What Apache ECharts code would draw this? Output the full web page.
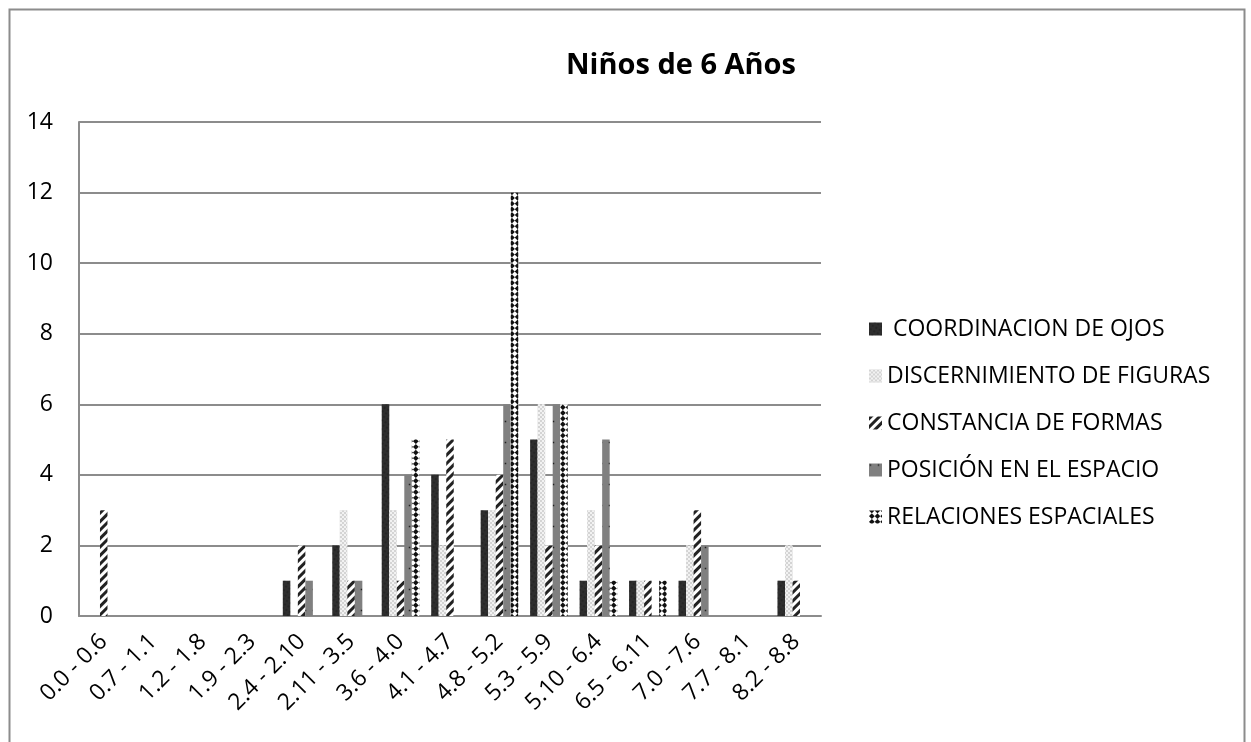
<!DOCTYPE html>
<html>
<head>
<meta charset="utf-8">
<script src="https://cdn.jsdelivr.net/npm/echarts@6/dist/echarts.min.js"></script>
<style>
  html, body { margin: 0; padding: 0; background: #fff; }
  #chart { width: 1251px; height: 742px; }
</style>
</head>
<body>
<div id="chart"></div>
<script>
var categories = ['0.0 - 0.6', '0.7 - 1.1', '1.2 - 1.8', '1.9 - 2.3', '2.4 - 2.10', '2.11 - 3.5', '3.6 - 4.0',
  '4.1 - 4.7', '4.8 - 5.2', '5.3 - 5.9', '5.10 - 6.4', '6.5 - 6.11', '7.0 - 7.6', '7.7 - 8.1', '8.2 - 8.8'];

var coordinacion = [0, 0, 0, 0, 1, 2, 6, 4, 3, 5, 1, 1, 1, 0, 1];
var discernimiento = [0, 0, 0, 0, 0, 3, 3, 2, 3, 6, 3, 1, 2, 0, 2];
var constancia = [3, 0, 0, 0, 2, 1, 1, 5, 4, 2, 2, 1, 3, 0, 1];
var posicion = [0, 0, 0, 0, 1, 1, 4, 0, 6, 6, 5, 0, 2, 0, 0];
var relaciones = [0, 0, 0, 0, 0, 0, 5, 0, 12, 6, 1, 1, 0, 0, 0];

var seriesNames = [' COORDINACION DE OJOS', 'DISCERNIMIENTO DE FIGURAS', 'CONSTANCIA DE FORMAS',
  'POSICIÓN EN EL ESPACIO', 'RELACIONES ESPACIALES'];
var yTicks = [0, 2, 4, 6, 8, 10, 12, 14];

var chartDom = document.getElementById('chart');
var myChart = echarts.init(chartDom);
var option;

// fill + pattern for each series (greyscale like the original)
var styles = [
  { color: '#2e2e2e', decal: { symbol: 'rect', symbolSize: 0.6, color: '#111', dashArrayX: [2, 2], dashArrayY: [2, 2] } },
  { color: '#d4d4d4', decal: { symbol: 'rect', symbolSize: 1, color: '#f2f2f2', dashArrayX: [[2, 2], [0, 2, 2, 0]], dashArrayY: [2, 0] } },
  { color: '#ffffff', decal: { symbol: 'rect', symbolSize: 1, color: '#222', dashArrayX: [1, 0], dashArrayY: [3, 3], rotation: -Math.PI / 4 } },
  { color: '#808080', decal: { symbol: 'rect', symbolSize: 0.5, color: '#222', dashArrayX: [3, 5], dashArrayY: [3, 18] } },
  { color: '#ffffff', decal: { symbol: 'rect', symbolSize: 1, color: '#111', dashArrayX: [[4, 4], [0, 4, 4, 0]], dashArrayY: [4, 0] } }
];
var values = [coordinacion, discernimiento, constancia, posicion, relaciones];

option = {
  backgroundColor: '#fff',
  aria: { enabled: true, decal: { show: true } },
  animation: false,
  textStyle: { fontFamily: 'Open Sans' },
  title: {
    text: 'Niños de 6 Años',
    left: 676,
    textAlign: 'center',
    top: 46,
    textStyle: { fontSize: 29, fontWeight: 'bold', color: '#000', fontFamily: 'Open Sans' }
  },
  graphic: [
    { type: 'rect', shape: { x: 9.5, y: 9.5, width: 1235, height: 760 }, style: { fill: 'none', stroke: '#8c8c8c', lineWidth: 2 }, silent: true }
  ],
  legend: {
    orient: 'vertical',
    left: 864,
    top: 312,
    itemWidth: 13,
    itemHeight: 13,
    itemGap: 23,
    icon: 'rect',
    data: seriesNames,
    textStyle: { fontSize: 23, lineHeight: 24, color: '#000', fontFamily: 'Open Sans', padding: [0, 0, 0, 0] }
  },
  grid: { left: 79, right: 430, top: 122, bottom: 126 },
  xAxis: {
    type: 'category',
    data: categories,
    axisLine: { lineStyle: { color: '#8c8c8c', width: 2 } },
    axisTick: { show: false },
    axisLabel: { rotate: 45, interval: 0, fontSize: 23, color: '#000', margin: 22 }
  },
  yAxis: {
    type: 'value',
    min: 0,
    max: 14,
    interval: 2,
    axisLine: { show: true, lineStyle: { color: '#8c8c8c', width: 2 } },
    axisTick: { show: false },
    splitLine: { lineStyle: { color: '#8c8c8c', width: 2 } },
    axisLabel: {
      fontSize: 23, color: '#000', margin: 26,
      formatter: function (v) { return yTicks.indexOf(v) >= 0 ? String(v) : ''; }
    }
  },
  series: seriesNames.map(function (name, i) {
    return {
      name: name,
      type: 'bar',
      data: values[i],
      barGap: '0%',
      barCategoryGap: '24%',
      itemStyle: { color: styles[i].color, decal: styles[i].decal }
    };
  })
};

option && myChart.setOption(option);
</script>
</body>
</html>
